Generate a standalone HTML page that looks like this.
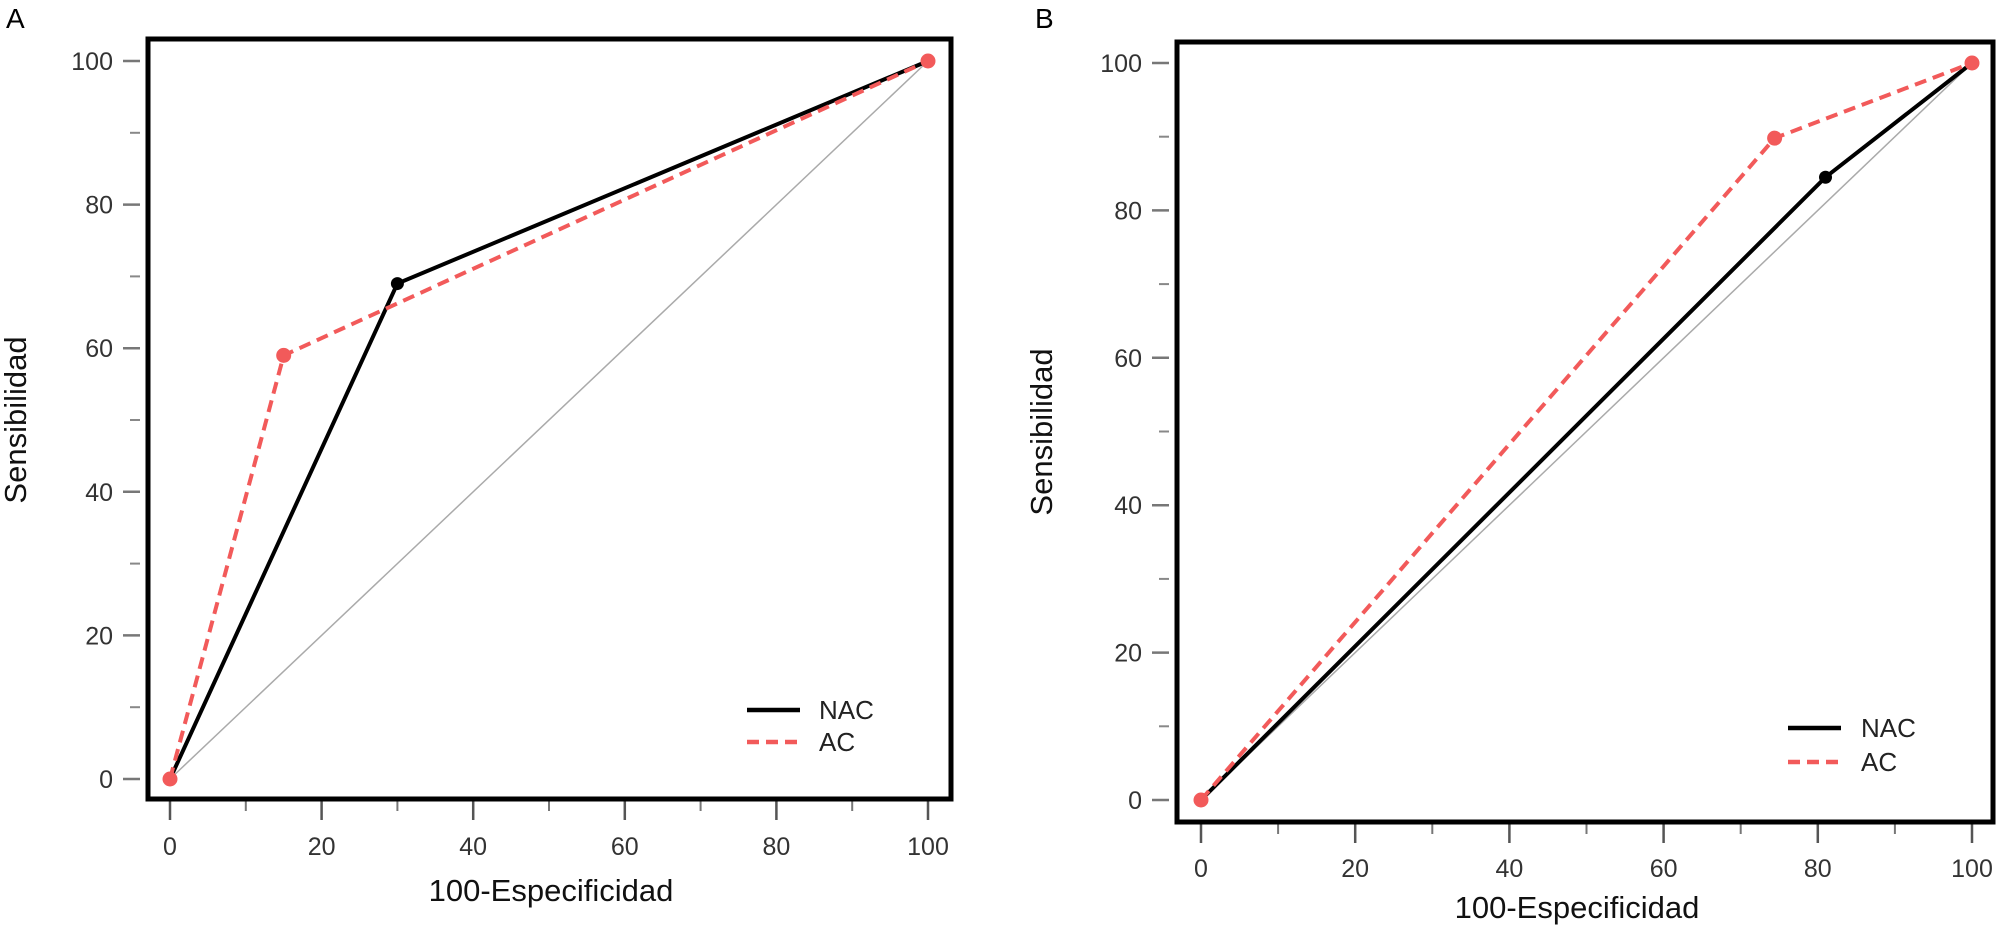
<!DOCTYPE html>
<html><head><meta charset="utf-8"><style>
html,body{margin:0;padding:0;background:#fff;}
svg{display:block;font-family:"Liberation Sans",Arial,sans-serif;}
</style></head><body>
<svg id="chart" width="2000" height="928" viewBox="0 0 2000 928"></svg>
<script>
const xTicks = [0,20,40,60,80,100];
const yTicks = [0,20,40,60,80,100];
const minorTicks = [10,30,50,70,90];
const aNacX = [0,30,100];
const aNacY = [0,69,100];
const aAcX = [0,15,100];
const aAcY = [0,59,100];
const bNacX = [0,81,100];
const bNacY = [0,84.5,100];
const bAcX = [0,74.4,100];
const bAcY = [0,89.8,100];
const seriesNames = ["NAC","AC"];

const NS="http://www.w3.org/2000/svg";
const svg=document.getElementById('chart');
function mk(tag,attrs,parent,text){const e=document.createElementNS(NS,tag);for(const k in attrs)e.setAttribute(k,attrs[k]);if(text!==undefined)e.textContent=text;(parent||svg).appendChild(e);return e;}

function panel(cfg){
  const g=mk('g',{});
  
  
  const sx=v=>cfg.x0+(cfg.x100-cfg.x0)*v/100;
  const sy=v=>cfg.y0+(cfg.y100-cfg.y0)*v/100;
  const lbl=mk('text',{x:cfg.lblX,y:28,'font-size':28,fill:'#000'},g,cfg.id);
  
  
  const d=mk('line',{x1:sx(0),y1:sy(0),x2:sx(100),y2:sy(100),stroke:'#aaa','stroke-width':1.5},g);
  
  
  xTicks.forEach(t=>{
    const l=mk('line',{x1:sx(t),x2:sx(t),y1:cfg.bb,y2:cfg.bb+21,stroke:'#555','stroke-width':2.5},g);
    
    
    const tx=mk('text',{x:sx(t),y:cfg.xlY,'font-size':25,'text-anchor':'middle',fill:'#333'},g,String(t));
    
    
  });
  minorTicks.forEach(t=>{
    const l=mk('line',{x1:sx(t),x2:sx(t),y1:cfg.bb,y2:cfg.bb+12,stroke:'#777','stroke-width':2},g);
    
    
    const l2=mk('line',{x1:cfg.bl-18,x2:cfg.bl-8,y1:sy(t),y2:sy(t),stroke:'#888','stroke-width':2},g);
    
    
  });
  yTicks.forEach(t=>{
    const l=mk('line',{x1:cfg.bl-25,x2:cfg.bl-8,y1:sy(t),y2:sy(t),stroke:'#777','stroke-width':2.5},g);
    
    
    const tx=mk('text',{x:cfg.bl-35,y:sy(t)+9,'font-size':25,'text-anchor':'end',fill:'#333'},g,String(t));
    
    
  });
  const b=mk('rect',{x:cfg.bl,y:cfg.bt,width:cfg.br-cfg.bl,height:cfg.bb-cfg.bt,fill:'none',stroke:'#000','stroke-width':5},g);
  
  
  function series(xs,ys,color,dash,name,r){
    const pts=xs.map((v,i)=>sx(v)+','+sy(ys[i])).join(' ');
    const p=mk('polyline',{points:pts,fill:'none',stroke:color,'stroke-width':4,'stroke-dasharray':dash},g);
    
    
    xs.forEach((v,i)=>{
      const c=mk('circle',{cx:sx(v),cy:sy(ys[i]),r:r,fill:color},g);
      
      
    });
  }
  series(cfg.nx,cfg.ny,'#000','none','nac',6.5);
  series(cfg.ax,cfg.ay,'#f25a5a','12,7','ac',7.5);
  const xt=mk('text',{x:cfg.xtX,y:cfg.xtY,'font-size':31,'text-anchor':'middle',fill:'#111'},g,'100-Especificidad');
  
  
  const yt=mk('text',{x:cfg.ytX,y:cfg.ytY,'font-size':31,'text-anchor':'middle',fill:'#111',transform:'rotate(-90 '+cfg.ytX+' '+cfg.ytY+')'},g,'Sensibilidad');
  
  
  const lg=mk('g',{},g);
  
  
  [['#000','none'],['#f25a5a','12,7']].forEach((s,i)=>{
    const y=cfg.legY[i];
    const l=mk('line',{x1:cfg.legX1,x2:cfg.legX2,y1:y,y2:y,stroke:s[0],'stroke-width':4.5,'stroke-dasharray':s[1]},lg);
    
    
    const t=mk('text',{x:cfg.legTX,y:y+9,'font-size':26,fill:'#222'},lg,seriesNames[i]);
    
    
  });
}
panel({id:'A',lblX:6,x0:170,x100:928,y0:779,y100:61,bl:148,br:951,bt:39,bb:799,xlY:855,xtX:551,xtY:901,ytX:26,ytY:420,
  nx:aNacX,ny:aNacY,ax:aAcX,ay:aAcY,legX1:747,legX2:800,legTX:819,legY:[710,742]});
panel({id:'B',lblX:1035,x0:1201,x100:1972,y0:800,y100:63,bl:1177,br:1993,bt:42,bb:822,xlY:877,xtX:1577,xtY:918,ytX:1052,ytY:432,
  nx:bNacX,ny:bNacY,ax:bAcX,ay:bAcY,legX1:1788,legX2:1841,legTX:1861,legY:[728,762]});
</script>
</body></html>
